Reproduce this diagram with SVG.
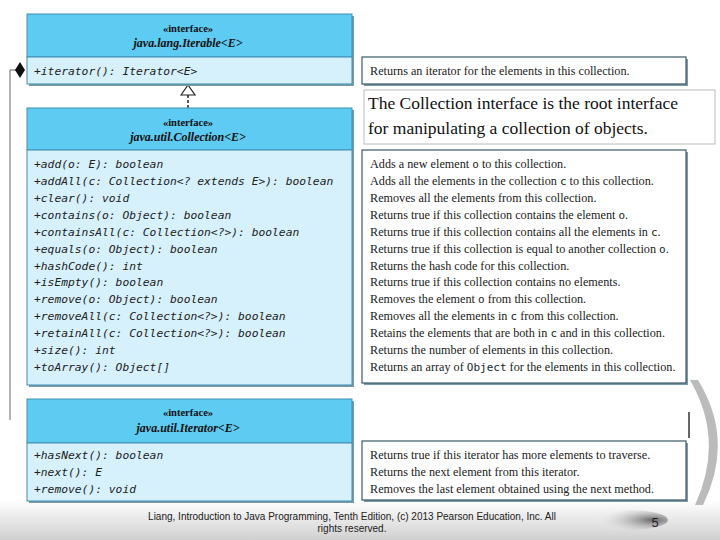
<svg xmlns="http://www.w3.org/2000/svg" width="720" height="540" viewBox="0 0 720 540">
<style>
.hd{fill:#5ecbf3;stroke:#3f8fb0;stroke-width:1}
.mb{fill:#d6f0fc;stroke:#3f8fb0;stroke-width:1}
.rb{fill:#fff;stroke:#3d5a66;stroke-width:1.2}
.st{font-family:"Liberation Serif",serif;font-size:10.5px;font-weight:bold;fill:#111;text-anchor:middle}
.nm{font-family:"Liberation Serif",serif;font-size:12px;font-weight:bold;font-style:italic;fill:#111;text-anchor:middle}
.m{font-family:"DejaVu Sans Mono",monospace;font-size:11.3px;font-style:italic;fill:#222}
.d{font-family:"Liberation Serif",serif;font-size:12.2px;fill:#222}
.mo{font-family:"DejaVu Sans Mono",monospace;font-size:11px}
.sh{fill:#7a9aa6}
</style>
<defs>
<linearGradient id="ft" x1="0" y1="0" x2="0" y2="1"><stop offset="0" stop-color="#fff"/><stop offset="1" stop-color="#d0d0d0"/></linearGradient>
<radialGradient id="bl" cx="0.8" cy="0.5" r="0.8"><stop offset="0" stop-color="#666"/><stop offset="1" stop-color="#fff" stop-opacity="0"/></radialGradient>
</defs>
<rect width="720" height="540" fill="#fff"/>
<rect x="0" y="500" width="720" height="40" fill="url(#ft)"/>
<path d="M690 380 Q725 440 695 505 L703 505 Q735 440 698 380 Z" fill="#bbb"/>
<g id="connectors">
<path d="M10 420 V70 H20" fill="none" stroke="#666" stroke-width="1"/>
<path d="M20 62 L25 70 L20 78 L15 70 Z" fill="#111"/>
<line x1="188" y1="95" x2="188" y2="108" stroke="#222" stroke-width="1.5" stroke-dasharray="3,2"/>
<path d="M181 95 L188 85 L195 95 Z" fill="#fff" stroke="#222" stroke-width="1.2"/>
</g>
<g id="iterable">
<rect x="29" y="16" width="325" height="70" class="sh"/>
<rect x="27" y="14" width="325" height="43" class="hd"/>
<rect x="27" y="57" width="325" height="27" class="mb"/>
<text x="188" y="32" class="st">«interface»</text>
<text x="188" y="47" class="nm">java.lang.Iterable&lt;E&gt;</text>
<text x="34" y="75" class="m">+iterator(): Iterator&lt;E&gt;</text>
</g>
<g id="iterable-desc">
<rect x="364" y="59" width="324" height="27" class="sh"/>
<rect x="362" y="57" width="324" height="27" class="rb"/>
<text x="370" y="75" class="d">Returns an iterator for the elements in this collection.</text>
</g>
<g id="note">
<rect x="364" y="90" width="351" height="54" fill="#fff" stroke="#bbb"/>
<text x="368" y="109" font-family="Liberation Serif,serif" font-size="17.5" fill="#111">The Collection interface is the root interface</text>
<text x="368" y="134" font-family="Liberation Serif,serif" font-size="17.5" fill="#111">for manipulating a collection of objects.</text>
</g>
<g id="collection">
<rect x="29" y="110" width="325" height="277" class="sh"/>
<rect x="27" y="108" width="325" height="42" class="hd"/>
<rect x="27" y="150" width="325" height="235" class="mb"/>
<text x="188" y="126" class="st">«interface»</text>
<text x="188" y="141" class="nm">java.util.Collection&lt;E&gt;</text>
<text class="m">
<tspan x="34" y="168">+add(o: E): boolean</tspan>
<tspan x="34" y="185">+addAll(c: Collection&lt;? extends E&gt;): boolean</tspan>
<tspan x="34" y="202">+clear(): void</tspan>
<tspan x="34" y="219">+contains(o: Object): boolean</tspan>
<tspan x="34" y="236">+containsAll(c: Collection&lt;?&gt;): boolean</tspan>
<tspan x="34" y="253">+equals(o: Object): boolean</tspan>
<tspan x="34" y="270">+hashCode(): int</tspan>
<tspan x="34" y="286">+isEmpty(): boolean</tspan>
<tspan x="34" y="303">+remove(o: Object): boolean</tspan>
<tspan x="34" y="320">+removeAll(c: Collection&lt;?&gt;): boolean</tspan>
<tspan x="34" y="337">+retainAll(c: Collection&lt;?&gt;): boolean</tspan>
<tspan x="34" y="354">+size(): int</tspan>
<tspan x="34" y="371">+toArray(): Object[]</tspan>
</text>
</g>
<g id="collection-desc">
<rect x="364" y="152" width="324" height="233" class="sh"/>
<rect x="362" y="150" width="324" height="233" class="rb"/>
<text class="d">
<tspan x="370" y="168">Adds a new element <tspan class="mo">o</tspan> to this collection.</tspan>
<tspan x="370" y="185">Adds all the elements in the collection <tspan class="mo">c</tspan> to this collection.</tspan>
<tspan x="370" y="202">Removes all the elements from this collection.</tspan>
<tspan x="370" y="219">Returns true if this collection contains the element <tspan class="mo">o</tspan>.</tspan>
<tspan x="370" y="236">Returns true if this collection contains all the elements in <tspan class="mo">c</tspan>.</tspan>
<tspan x="370" y="253">Returns true if this collection is equal to another collection <tspan class="mo">o</tspan>.</tspan>
<tspan x="370" y="270">Returns the hash code for this collection.</tspan>
<tspan x="370" y="286">Returns true if this collection contains no elements.</tspan>
<tspan x="370" y="303">Removes the element <tspan class="mo">o</tspan> from this collection.</tspan>
<tspan x="370" y="320">Removes all the elements in <tspan class="mo">c</tspan> from this collection.</tspan>
<tspan x="370" y="337">Retains the elements that are both in <tspan class="mo">c</tspan> and in this collection.</tspan>
<tspan x="370" y="354">Returns the number of elements in this collection.</tspan>
<tspan x="370" y="371">Returns an array of <tspan class="mo">Object</tspan> for the elements in this collection.</tspan>
</text>
</g>
<g id="iterator">
<rect x="29" y="401" width="325" height="102" class="sh"/>
<rect x="27" y="399" width="325" height="44" class="hd"/>
<rect x="27" y="443" width="325" height="58" class="mb"/>
<text x="188" y="416" class="st">«interface»</text>
<text x="188" y="432" class="nm">java.util.Iterator&lt;E&gt;</text>
<text class="m">
<tspan x="34" y="459">+hasNext(): boolean</tspan>
<tspan x="34" y="476">+next(): E</tspan>
<tspan x="34" y="493">+remove(): void</tspan>
</text>
</g>
<g id="iterator-desc">
<rect x="364" y="443" width="324" height="59" class="sh"/>
<rect x="362" y="441" width="324" height="59" class="rb"/>
<text class="d">
<tspan x="370" y="459">Returns true if this iterator has more elements to traverse.</tspan>
<tspan x="370" y="476">Returns the next element from this iterator.</tspan>
<tspan x="370" y="493">Removes the last element obtained using the next method.</tspan>
</text>
</g>
<line x1="689" y1="412" x2="689" y2="438" stroke="#333" stroke-width="1.5"/>
<ellipse cx="630" cy="520" rx="38" ry="10" fill="url(#bl)"/>
<text x="352" y="520" font-family="Liberation Sans,sans-serif" font-size="10" fill="#222" text-anchor="middle">Liang, Introduction to Java Programming, Tenth Edition, (c) 2013 Pearson Education, Inc. All</text>
<text x="352" y="532" font-family="Liberation Sans,sans-serif" font-size="10" fill="#222" text-anchor="middle">rights reserved.</text>
<text x="655" y="527" font-family="Liberation Sans,sans-serif" font-size="13" fill="#222" text-anchor="middle">5</text>
</svg>
